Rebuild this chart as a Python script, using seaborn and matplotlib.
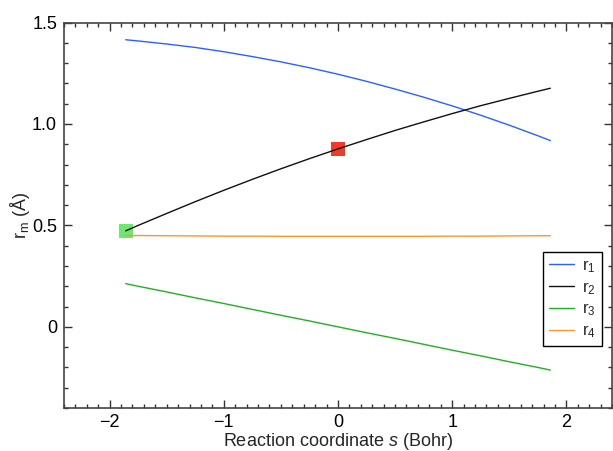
import numpy as np
import pandas as pd
import matplotlib
matplotlib.use("Agg")
import matplotlib.pyplot as plt
import seaborn as sns
from matplotlib.ticker import MultipleLocator

s_vals = [-1.86, -1.75, -1.5, -1.25, -1.0, -0.75, -0.5, -0.25, 0.0,
          0.25, 0.5, 0.75, 1.0, 1.25, 1.5, 1.75, 1.86]
r1 = [1.415, 1.409, 1.394, 1.377, 1.356, 1.332, 1.306, 1.277, 1.245,
      1.210, 1.172, 1.132, 1.089, 1.043, 0.994, 0.942, 0.918]
r2 = [0.473, 0.500, 0.559, 0.617, 0.673, 0.727, 0.779, 0.829, 0.877,
      0.923, 0.968, 1.010, 1.051, 1.090, 1.126, 1.161, 1.176]
r3 = [0.213, 0.200, 0.172, 0.143, 0.115, 0.086, 0.057, 0.029, 0.000,
      -0.029, -0.057, -0.086, -0.115, -0.143, -0.172, -0.200, -0.213]
r4 = [0.450, 0.450, 0.449, 0.448, 0.447, 0.447, 0.446, 0.446, 0.446,
      0.446, 0.446, 0.446, 0.447, 0.447, 0.448, 0.449, 0.449]
series_labels = ["r$_1$", "r$_2$", "r$_3$", "r$_4$"]
colors = ["#2a62ff", "#111111", "#22b022", "#f29a2e"]
marker_s = [-1.86, 0.0]
marker_r = [0.473, 0.877]
marker_colors = ["#6fe66f", "#f23a2a"]

sns.set_style("white")
plt.rcParams["font.family"] = ["Liberation Sans", "DejaVu Sans"]
plt.rcParams["mathtext.fontset"] = "custom"
plt.rcParams["mathtext.rm"] = "Liberation Sans"
plt.rcParams["mathtext.it"] = "Liberation Sans:italic"

fig = plt.figure(figsize=(6.13, 4.51), dpi=100)
ax = fig.add_axes([64/613, 1-408/451, 548/613, (408-22.5)/451])

df = pd.DataFrame({"s": s_vals * 4,
                   "r": r1 + r2 + r3 + r4,
                   "series": sum([[l]*len(s_vals) for l in series_labels], [])})

# markers behind lines
ax.scatter(marker_s, marker_r, marker="s", s=100, c=marker_colors, zorder=1, linewidths=0)

sns.lineplot(data=df, x="s", y="r", hue="series", palette=colors, ax=ax,
             linewidth=1.0, zorder=2, estimator=None, sort=False)

ax.set_xlim(-2.4, 2.4)
ax.set_ylim(-0.4, 1.5)
ax.xaxis.set_major_locator(MultipleLocator(1))
ax.xaxis.set_minor_locator(MultipleLocator(0.1))
ax.yaxis.set_major_locator(MultipleLocator(0.5))
ax.yaxis.set_minor_locator(MultipleLocator(0.1))
ax.set_yticks([0, 0.5, 1.0, 1.5])
ax.set_yticklabels(["0", "0.5", "1.0", "1.5"])
ax.tick_params(which="both", direction="in", top=True, right=True, bottom=True, left=True,
               color="#333333", labelsize=13, labelcolor="black")
ax.tick_params(which="major", length=6, width=1)
ax.tick_params(which="minor", length=3, width=1)
ax.tick_params(axis="x", which="major", pad=4)
ax.tick_params(axis="y", which="major", pad=5)
for sp in ax.spines.values():
    sp.set_color("#444444")
    sp.set_linewidth(1.2)

ax.set_xlabel("Reaction coordinate $s$ (Bohr)", fontsize=13)
ax.set_ylabel("r$_\\mathrm{m}$ (Å)", fontsize=13)
ax.xaxis.set_label_coords(0.5, -0.06)
ax.yaxis.set_label_coords(-0.058, 0.5)

leg = ax.legend(loc="lower right", bbox_to_anchor=(0.982, 0.161), borderaxespad=0,
                fontsize=12, handlelength=1.5, fancybox=False, framealpha=1,
                edgecolor="black", title=None, labelspacing=0.3, handletextpad=0.5,
                borderpad=0.35)
leg.get_frame().set_linewidth(1.0)

fig.savefig("out.png", dpi=100)
